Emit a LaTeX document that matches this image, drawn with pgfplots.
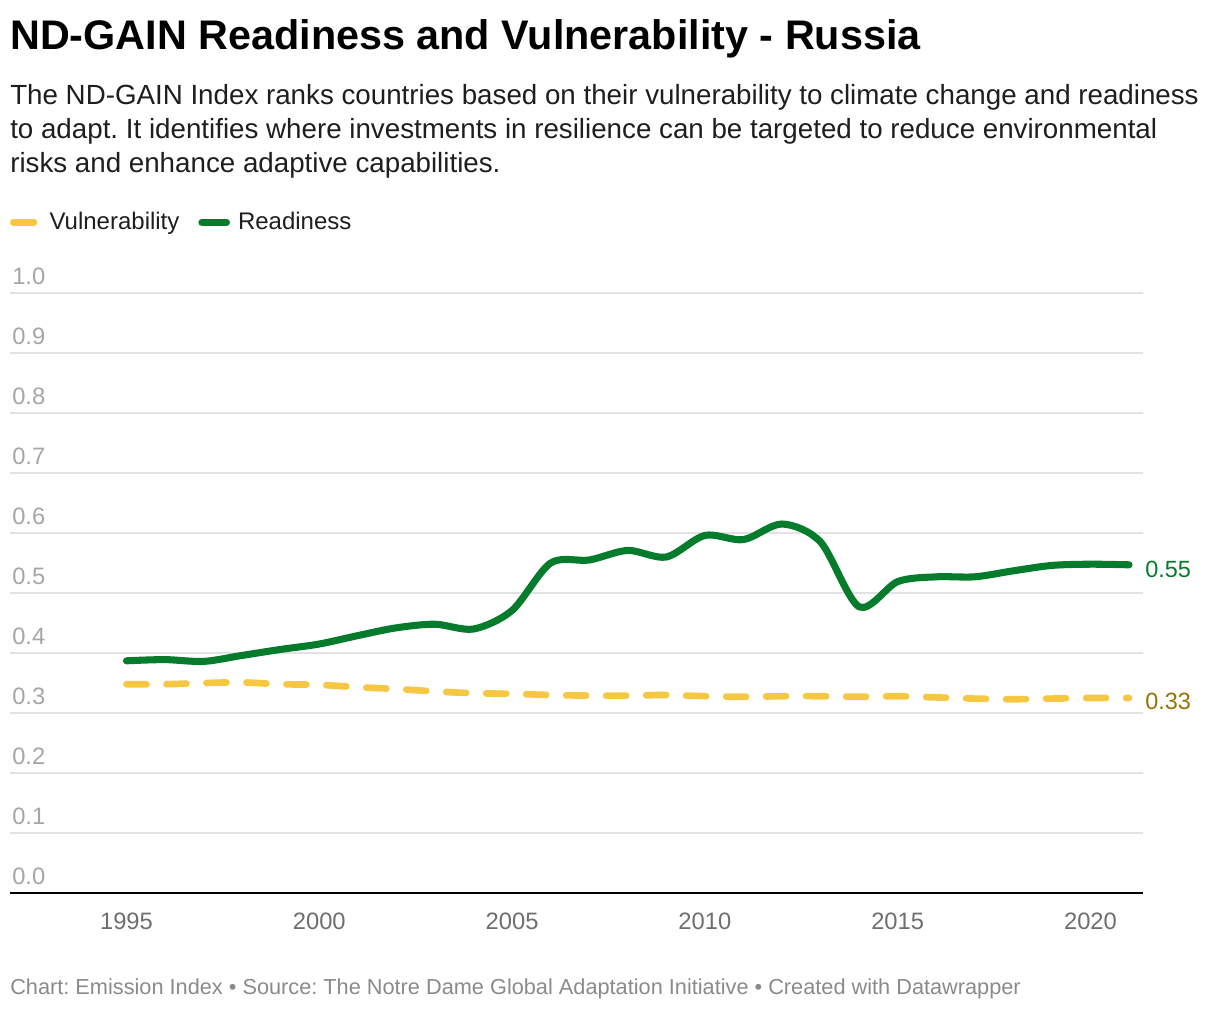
\documentclass[border=0pt]{standalone}
\usepackage{fontspec}
\setmainfont{Liberation Sans}
\usepackage{pgfplots}
\pgfplotsset{compat=1.18}
\definecolor{rgreen}{HTML}{047C2C}
\definecolor{vyellow}{HTML}{F6C743}
\definecolor{vlabel}{HTML}{967300}
\definecolor{gridgray}{HTML}{E2E2E2}
\definecolor{ylab}{HTML}{A6A6A6}
\definecolor{xlab}{HTML}{6E6E6E}
\definecolor{foot}{HTML}{8A8A8A}
\definecolor{subc}{HTML}{1E1E1E}
\frenchspacing
\begin{document}
\begin{tikzpicture}
\path[use as bounding box] (0,0) rectangle (915pt,-757.5pt);
% title
\node[anchor=base west, inner sep=0pt] at (7.5pt,-37.1pt)
  {\fontsize{31}{36}\selectfont\bfseries ND-GAIN Readiness and Vulnerability - Russia};
% subtitle
\node[anchor=base west, inner sep=0pt, text=subc] at (7.5pt,-78.2pt)
  {\fontsize{20.8}{25}\selectfont The ND-GAIN Index ranks countries based on their vulnerability to climate change and readiness};
\node[anchor=base west, inner sep=0pt, text=subc] at (7.5pt,-103.7pt)
  {\fontsize{20.8}{25}\selectfont to adapt. It identifies where investments in resilience can be targeted to reduce environmental};
\node[anchor=base west, inner sep=0pt, text=subc] at (7.5pt,-129.2pt)
  {\fontsize{20.8}{25}\selectfont risks and enhance adaptive capabilities.};
% legend
\draw[vyellow, line width=5.25pt, line cap=round] (10.1pt,-166.7pt) -- (25.4pt,-166.7pt);
\node[anchor=base west, inner sep=0pt, text=subc] at (37pt,-172pt)
  {\fontsize{18}{21}\selectfont Vulnerability};
\draw[rgreen, line width=5.25pt, line cap=round] (151.4pt,-166.7pt) -- (169.9pt,-166.7pt);
\node[anchor=base west, inner sep=0pt, text=subc] at (178.3pt,-172pt)
  {\fontsize{18}{21}\selectfont Readiness};
% footer
\node[anchor=base west, inner sep=0pt, text=foot] at (7.5pt,-745.5pt)
  {\fontsize{16.3}{19}\selectfont Chart: Emission Index • Source: The Notre Dame Global Adaptation Initiative • Created with Datawrapper};

\begin{axis}[
  at={(7.5pt,-669.75pt)}, anchor=south west,
  scale only axis, width=849.75pt, height=450pt,
  xmin=1991.979, xmax=2021.362, ymin=0, ymax=1,
  clip=false,
  axis line style={draw=none},
  major tick length=0pt,
  xtick={1995,2000,2005,2010,2015,2020},
  ytick={0,0.1,0.2,0.3,0.4,0.5,0.6,0.7,0.8,0.9,1.0},
  ymajorgrids, grid style={gridgray, line width=0.9pt},
  /pgf/number format/assume math mode=true,
  xticklabel style={/pgf/number format/1000 sep={}, font=\fontsize{17.8}{20}\selectfont, text=xlab, anchor=base, inner sep=0pt, yshift=-27pt},
  yticklabel style={/pgf/number format/.cd, fixed, fixed zerofill, precision=1, /tikz/.cd, font=\fontsize{17.8}{20}\selectfont, text=ylab, anchor=base west, inner sep=0pt, xshift=1.5pt, yshift=6.75pt},
]
\draw[black, line width=1.5pt] (axis cs:1991.979,0) -- (axis cs:2021.362,0);
\addplot[vyellow, line width=5pt, line cap=round, dash pattern=on 15pt off 15pt, smooth] coordinates {
(1995,0.348) (1996,0.348) (1997,0.350) (1998,0.351) (1999,0.348) (2000,0.347)
(2001,0.343) (2002,0.340) (2003,0.336) (2004,0.333) (2005,0.332) (2006,0.330)
(2007,0.329) (2008,0.329) (2009,0.330) (2010,0.328) (2011,0.327) (2012,0.328)
(2013,0.328) (2014,0.327) (2015,0.328) (2016,0.326) (2017,0.324) (2018,0.323)
(2019,0.324) (2020,0.325) (2021,0.325)
};
\addplot[rgreen, line width=5.3pt, line cap=round, line join=round, smooth] coordinates {
(1995,0.387) (1996,0.389) (1997,0.386) (1998,0.396) (1999,0.406) (2000,0.415)
(2001,0.429) (2002,0.442) (2003,0.448) (2004,0.440) (2005,0.471) (2006,0.550)
(2007,0.555) (2008,0.571) (2009,0.560) (2010,0.596) (2011,0.589) (2012,0.615)
(2013,0.585) (2014,0.477) (2015,0.519) (2016,0.527) (2017,0.527) (2018,0.537)
(2019,0.546) (2020,0.548) (2021,0.547)
};
\node[anchor=base west, inner sep=0pt, text=rgreen, font=\fontsize{17.6}{20}\selectfont] at (axis cs:2021,0.526) [xshift=12pt] {0.55};
\node[anchor=base west, inner sep=0pt, text=vlabel, font=\fontsize{17.6}{20}\selectfont] at (axis cs:2021,0.306) [xshift=12pt] {0.33};
\end{axis}
\end{tikzpicture}
\end{document}
